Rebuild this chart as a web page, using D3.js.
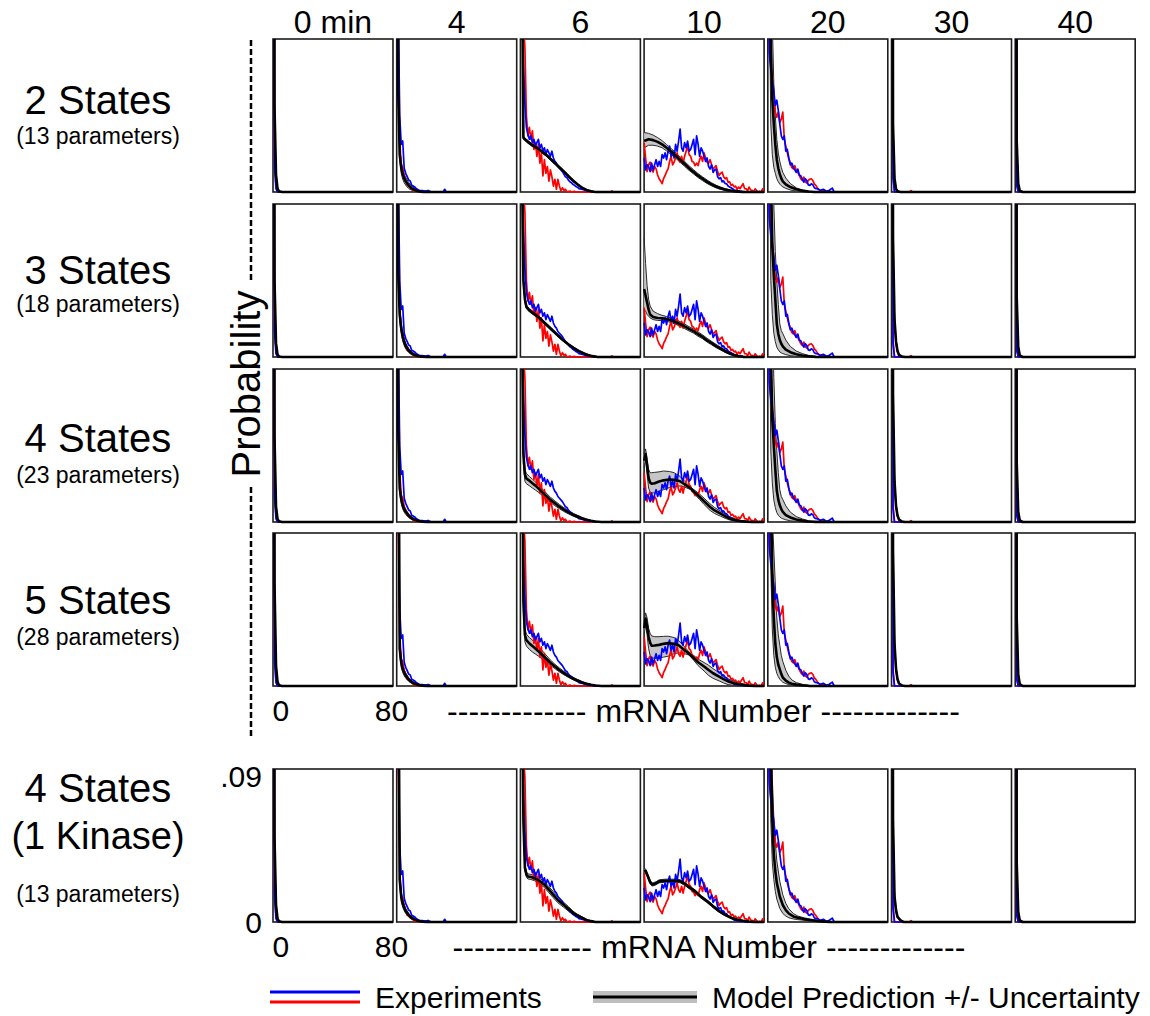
<!DOCTYPE html>
<html>
<head>
<meta charset="utf-8">
<script src="https://cdn.jsdelivr.net/npm/d3@7"></script>
<style>
  body { margin: 0; background: #fff; }
  svg { display: block; font-family: "Liberation Sans", Arial, Helvetica, sans-serif; }
</style>
</head>
<body>
<svg id="chart" width="1150" height="1016"></svg>
<script>
// ---- Time points (columns) and model variants (rows) ----
const timePoints = ["0 min", "4", "6", "10", "20", "30", "40"];
const rowTitles = [["2 States"], ["3 States"], ["4 States"], ["5 States"], ["4 States", "(1 Kinase)"]];
const rowParams = ["(13 parameters)", "(18 parameters)", "(23 parameters)", "(28 parameters)", "(13 parameters)"];
const xTickValues = [0, 80];
const yTickValues = [0, 0.09];
const yTickLabels = ["0", ".09"];

// ---- Measured mRNA distributions, [mRNA, probability], one list per time point ----
const expBlue = [
  [[0,0.95],[1,0.015],[2,0.002],[3,0],[80,0]],
  [[0,0.6],[1,0.11],[2,0.045],[3,0.028],[4,0.03],[5,0.014],[6,0.011],[7,0.009],[8,0.007],[9,0.0065],[10,0.004],[11,0.0035],[12,0.003],[13,0.002],[14,0.0015],[15,0.001],[17,0.0008],[19,0.0005],[21,0.0009],[23,0],[31,0],[32,0.0016],[33,0],[80,0]],
  [[0,0.4],[1,0.12],[2,0.075],[3,0.052],[4,0.038],[5,0.034],[6,0.031],[7,0.033],[8,0.029],[9,0.031],[10,0.027],[11,0.029],[12,0.031],[13,0.026],[14,0.028],[15,0.024],[16,0.026],[17,0.022],[18,0.025],[19,0.023],[20,0.021],[21,0.024],[22,0.02],[23,0.018],[24,0.017],[25,0.015],[26,0.014],[27,0.013],[28,0.012],[29,0.0105],[30,0.009],[31,0.0085],[32,0.007],[33,0.006],[34,0.0055],[35,0.0045],[36,0.004],[37,0.0032],[38,0.0028],[39,0.002],[40,0.0018],[42,0.0014],[44,0.0008],[46,0.0005],[48,0.0003],[50,0],[80,0]],
  [[0,0.02],[1,0.013],[2,0.016],[3,0.015],[4,0.012],[5,0.017],[6,0.013],[7,0.016],[8,0.019],[9,0.015],[10,0.018],[11,0.015],[12,0.022],[13,0.02],[14,0.023],[15,0.019],[16,0.024],[17,0.027],[18,0.021],[19,0.024],[20,0.02],[21,0.028],[22,0.024],[23,0.03],[24,0.037],[25,0.026],[26,0.024],[27,0.029],[28,0.026],[29,0.03],[30,0.024],[31,0.025],[32,0.028],[33,0.031],[34,0.022],[35,0.033],[36,0.028],[37,0.021],[38,0.026],[39,0.024],[40,0.021],[41,0.018],[42,0.02],[43,0.015],[44,0.0135],[45,0.016],[46,0.0115],[47,0.013],[48,0.0135],[49,0.009],[50,0.0078],[51,0.0085],[52,0.006],[53,0.0065],[54,0.005],[55,0.0048],[56,0.0035],[57,0.003],[58,0.0025],[59,0.0019],[60,0.0012],[62,0.0008],[64,0.0005],[66,0.0003],[68,0],[80,0]],
  [[0,0.15],[1,0.082],[2,0.072],[3,0.066],[4,0.059],[5,0.051],[6,0.054],[7,0.048],[8,0.04],[9,0.033],[10,0.031],[11,0.033],[12,0.024],[13,0.025],[14,0.02],[15,0.016],[16,0.017],[17,0.0145],[18,0.013],[19,0.0115],[20,0.0135],[21,0.01],[22,0.0095],[23,0.0075],[24,0.0058],[25,0.0078],[26,0.0068],[27,0.0042],[28,0.0039],[29,0.0048],[30,0.0043],[31,0.0025],[32,0.002],[33,0.0019],[35,0.001],[37,0.0016],[39,0.0004],[41,0.001],[43,0.0023],[44,0.0004],[45,0],[80,0]],
  [[0,0.9],[1,0.008],[2,0],[80,0]],
  [[0,0.95],[1,0.004],[2,0],[80,0]]
];
const expRed = [
  [[0,0.93],[1,0.02],[2,0.003],[3,0],[80,0]],
  [[0,0.65],[1,0.1],[2,0.03],[3,0.016],[4,0.014],[5,0.009],[6,0.007],[7,0.004],[8,0.0045],[9,0.0025],[10,0.002],[11,0.0012],[12,0.0006],[14,0.0003],[15,0],[80,0]],
  [[0,0.42],[1,0.14],[2,0.1],[3,0.085],[4,0.045],[5,0.033],[6,0.038],[7,0.031],[8,0.036],[9,0.025],[10,0.029],[11,0.021],[12,0.028],[13,0.017],[14,0.023],[15,0.0094],[16,0.019],[17,0.011],[18,0.015],[19,0.0064],[20,0.013],[21,0.009],[22,0.0035],[23,0.0075],[24,0.0016],[25,0.0074],[26,0.0035],[27,0.0006],[28,0.0025],[29,0.001],[30,0.0016],[31,0],[33,0.0006],[34,0],[36,0.0004],[37,0],[60,0],[61,0.0006],[62,0],[80,0]],
  [[0,0.029],[1,0.02],[2,0.012],[3,0.016],[4,0.0175],[5,0.013],[6,0.0117],[7,0.015],[8,0.0136],[9,0.01],[10,0.0078],[11,0.0065],[12,0.0049],[13,0.008],[14,0.0097],[15,0.012],[16,0.0136],[17,0.018],[18,0.021],[19,0.016],[20,0.0175],[21,0.02],[22,0.023],[23,0.019],[24,0.0175],[25,0.021],[26,0.017],[27,0.021],[28,0.024],[29,0.027],[30,0.022],[31,0.021],[32,0.018],[33,0.0175],[34,0.0155],[35,0.017],[36,0.0155],[37,0.019],[38,0.021],[39,0.018],[40,0.023],[41,0.02],[42,0.0175],[43,0.017],[44,0.019],[45,0.016],[46,0.0136],[47,0.0145],[48,0.0155],[49,0.012],[50,0.0097],[51,0.011],[52,0.0117],[53,0.009],[54,0.0078],[55,0.0085],[56,0.0058],[57,0.006],[58,0.0039],[59,0.0045],[60,0.003],[61,0.0035],[62,0.0015],[63,0.0029],[64,0.002],[65,0.0035],[66,0.0049],[67,0.002],[68,0.0019],[69,0.0008],[70,0.0029],[71,0.0012],[72,0.001],[73,0],[74,0.0019],[75,0.0008],[76,0],[77,0.0004],[78,0],[79,0.0019],[80,0]],
  [[0,0.14],[1,0.085],[2,0.074],[3,0.068],[4,0.058],[5,0.047],[6,0.044],[7,0.047],[8,0.041],[9,0.043],[10,0.047],[11,0.031],[12,0.027],[13,0.023],[14,0.0195],[15,0.017],[16,0.0145],[17,0.0136],[18,0.0155],[19,0.0126],[20,0.0115],[21,0.0097],[22,0.0078],[23,0.0068],[24,0.0088],[25,0.006],[26,0.0052],[27,0.0068],[28,0.0075],[29,0.0078],[30,0.0068],[31,0.0048],[32,0.0039],[33,0.0025],[34,0.0016],[35,0.0008],[36,0.0006],[37,0.001],[38,0],[80,0]],
  [[0,0.88],[1,0.01],[2,0],[12,0],[13,0.0008],[14,0],[80,0]],
  [[0,0.94],[1,0.005],[2,0],[80,0]]
];

// ---- Model predictions, [mRNA, mean, lower, upper], one list per time point ----
const model2States = [
  [[0,0.9,0.88,0.92],[1,0.05,0.045,0.055],[2,0.01,0.008,0.012],[3,0.002,0.0015,0.003],[4,0.0004,0.0002,0.0006],[6,0,0,0],[80,0,0,0]],
  [[0,0.6,0.55,0.65],[1,0.06,0.055,0.065],[2,0.022,0.019,0.026],[3,0.0145,0.011,0.018],[4,0.0105,0.0075,0.0135],[5,0.008,0.0055,0.0105],[6,0.0063,0.004,0.0086],[8,0.0038,0.002,0.0056],[10,0.0022,0.001,0.0035],[12,0.0012,0.0004,0.002],[14,0.0006,0.0001,0.0011],[16,0.0002,0,0.0005],[18,0,0,0.0001],[80,0,0,0]],
  [[0,0.5,0.49,0.51],[1,0.15,0.145,0.155],[2,0.032,0.031,0.033],[3,0.031,0.0302,0.0318],[5,0.0295,0.0287,0.0303],[8,0.0275,0.0267,0.0283],[11,0.026,0.0252,0.0268],[14,0.024,0.0232,0.0248],[17,0.022,0.0212,0.0228],[20,0.0195,0.0187,0.0203],[23,0.017,0.0162,0.0178],[26,0.0145,0.0137,0.0153],[29,0.012,0.0112,0.0128],[32,0.0093,0.0086,0.01],[35,0.0068,0.0062,0.0074],[38,0.0045,0.004,0.005],[41,0.0026,0.0022,0.003],[44,0.0012,0.0009,0.0015],[47,0.0004,0.0002,0.0006],[50,0,0,0.0001],[80,0,0,0]],
  [[0,0.03,0.026,0.035],[3,0.031,0.0275,0.0345],[6,0.0305,0.0275,0.0335],[9,0.0295,0.027,0.032],[12,0.028,0.026,0.0302],[15,0.026,0.0242,0.0279],[18,0.0238,0.0221,0.0256],[21,0.0215,0.0199,0.0232],[24,0.019,0.0175,0.0206],[27,0.0165,0.0151,0.018],[30,0.014,0.0127,0.0154],[33,0.0118,0.0106,0.0131],[36,0.0096,0.0085,0.0108],[39,0.0078,0.0067,0.0089],[42,0.006,0.005,0.007],[45,0.0045,0.0036,0.0054],[48,0.0032,0.0024,0.004],[51,0.0022,0.0015,0.0029],[54,0.0014,0.0009,0.002],[57,0.0009,0.0005,0.0013],[60,0.0005,0.0002,0.0008],[63,0.0002,0,0.0004],[66,0,0,0.0001],[80,0,0,0]],
  [[0,0.6,0.5,0.7],[1,0.2,0.12,0.3],[2,0.085,0.04,0.14],[3,0.055,0.022,0.1],[4,0.04,0.0145,0.064],[5,0.028,0.011,0.045],[6,0.019,0.0078,0.031],[7,0.014,0.006,0.023],[8,0.0105,0.0046,0.018],[9,0.008,0.0037,0.0145],[10,0.0063,0.003,0.0115],[12,0.0045,0.0021,0.0082],[15,0.0029,0.0012,0.005],[19,0.0016,0.0005,0.0024],[23,0.0008,0.0002,0.0011],[27,0.0003,0,0.0005],[31,0,0,0.0001],[80,0,0,0]],
  [[0,0.8,0.78,0.82],[1,0.04,0.035,0.046],[2,0.008,0.006,0.01],[3,0.0018,0.0012,0.0025],[4,0.0004,0.0002,0.0007],[6,0,0,0],[80,0,0,0]],
  [[0,0.85,0.83,0.87],[1,0.03,0.026,0.034],[2,0.005,0.004,0.006],[3,0.0008,0.0005,0.0011],[5,0,0,0],[80,0,0,0]]
];
const model3States = [
  [[0,0.9,0.88,0.92],[1,0.045,0.04,0.05],[2,0.008,0.006,0.01],[3,0.0015,0.001,0.002],[4,0.0003,0.0001,0.0005],[6,0,0,0],[80,0,0,0]],
  [[0,0.6,0.55,0.65],[1,0.05,0.045,0.056],[2,0.025,0.021,0.029],[3,0.017,0.014,0.02],[4,0.012,0.0095,0.0145],[5,0.0088,0.0068,0.0108],[6,0.0065,0.0048,0.0082],[8,0.0038,0.0026,0.005],[10,0.0022,0.0013,0.0031],[12,0.0012,0.0006,0.0018],[14,0.0006,0.0002,0.001],[17,0.0002,0,0.0004],[20,0,0,0.0001],[80,0,0,0]],
  [[0,0.5,0.49,0.51],[1,0.12,0.115,0.125],[2,0.045,0.042,0.048],[3,0.034,0.032,0.036],[4,0.0295,0.0285,0.0305],[6,0.0275,0.0265,0.0285],[9,0.0255,0.0246,0.0264],[12,0.0235,0.0226,0.0244],[15,0.021,0.0202,0.0218],[18,0.0185,0.0177,0.0193],[21,0.016,0.0152,0.0168],[24,0.0135,0.0128,0.0142],[27,0.011,0.0104,0.0117],[30,0.0088,0.0082,0.0094],[33,0.0068,0.0063,0.0073],[36,0.005,0.0046,0.0055],[39,0.0035,0.0031,0.0039],[42,0.0022,0.0019,0.0025],[45,0.0012,0.001,0.0015],[48,0.0005,0.0003,0.0007],[51,0.0001,0,0.0002],[54,0,0,0],[80,0,0,0]],
  [[0,0.04,0.028,0.07],[1,0.036,0.027,0.055],[2,0.032,0.025,0.042],[3,0.028,0.024,0.034],[4,0.025,0.023,0.03],[6,0.0235,0.022,0.027],[9,0.0229,0.0215,0.0255],[12,0.0228,0.0214,0.0245],[15,0.0224,0.021,0.0238],[18,0.0216,0.0203,0.023],[21,0.0206,0.0193,0.022],[24,0.0194,0.0181,0.0208],[27,0.018,0.0167,0.0194],[30,0.0165,0.0153,0.0178],[33,0.0152,0.014,0.0165],[36,0.0134,0.0122,0.0147],[39,0.0118,0.0107,0.013],[42,0.0098,0.0088,0.011],[45,0.0082,0.0072,0.0092],[48,0.0064,0.0055,0.0074],[51,0.0049,0.0041,0.0058],[54,0.0034,0.0027,0.0042],[57,0.0021,0.0016,0.0027],[60,0.0011,0.0007,0.0016],[63,0.0005,0.0002,0.0008],[66,0.0001,0,0.0003],[70,0,0,0],[80,0,0,0]],
  [[0,0.6,0.5,0.7],[1,0.25,0.15,0.35],[2,0.11,0.045,0.2],[3,0.065,0.025,0.13],[4,0.048,0.014,0.09],[5,0.034,0.009,0.062],[6,0.0194,0.0058,0.045],[7,0.0135,0.0042,0.031],[8,0.01,0.003,0.0195],[9,0.0078,0.0024,0.0155],[10,0.0063,0.002,0.0138],[12,0.0043,0.0014,0.01],[15,0.0028,0.0008,0.0062],[19,0.0016,0.0003,0.0035],[23,0.0009,0.0001,0.002],[27,0.0004,0,0.001],[32,0.0001,0,0.0003],[36,0,0,0],[80,0,0,0]],
  [[0,0.7,0.68,0.72],[1,0.07,0.06,0.08],[2,0.022,0.018,0.026],[3,0.009,0.007,0.011],[4,0.0035,0.0025,0.0045],[5,0.0012,0.0008,0.0016],[7,0.0002,0,0.0004],[9,0,0,0],[80,0,0,0]],
  [[0,0.85,0.83,0.87],[1,0.035,0.03,0.04],[2,0.006,0.005,0.007],[3,0.001,0.0007,0.0013],[5,0,0,0],[80,0,0,0]]
];
const model4States = [
  [[0,0.9,0.88,0.92],[1,0.05,0.045,0.055],[2,0.009,0.007,0.011],[3,0.0018,0.0012,0.0024],[4,0.0004,0.0002,0.0006],[6,0,0,0],[80,0,0,0]],
  [[0,0.6,0.57,0.63],[1,0.055,0.05,0.06],[2,0.02,0.017,0.023],[3,0.0135,0.011,0.016],[4,0.0098,0.0078,0.0118],[5,0.0075,0.0058,0.0092],[6,0.006,0.0045,0.0075],[8,0.0037,0.0026,0.0048],[10,0.0022,0.0014,0.003],[12,0.0013,0.0007,0.0019],[14,0.0007,0.0003,0.0011],[17,0.0002,0,0.0004],[20,0,0,0],[80,0,0,0]],
  [[0,0.5,0.45,0.55],[1,0.13,0.11,0.15],[2,0.04,0.034,0.046],[3,0.028,0.024,0.031],[4,0.0255,0.0225,0.0285],[6,0.0243,0.0213,0.0268],[8,0.0228,0.02,0.0252],[10,0.0214,0.0188,0.0236],[12,0.0198,0.0175,0.022],[14,0.018,0.016,0.02],[17,0.0155,0.0138,0.0172],[20,0.013,0.0115,0.0146],[23,0.011,0.0096,0.0124],[26,0.009,0.0078,0.0103],[29,0.0073,0.0062,0.0084],[32,0.0057,0.0048,0.0067],[35,0.0043,0.0035,0.0052],[38,0.0032,0.0025,0.004],[41,0.0021,0.0016,0.0028],[44,0.0013,0.0009,0.0018],[47,0.0007,0.0004,0.001],[50,0.0003,0.0001,0.0005],[54,0,0,0.0001],[80,0,0,0]],
  [[0,0.036,0.032,0.04],[1,0.04,0.037,0.043],[2,0.033,0.028,0.037],[3,0.026,0.02,0.031],[4,0.0232,0.0175,0.029],[5,0.0225,0.017,0.029],[7,0.0228,0.0172,0.0292],[10,0.0238,0.0182,0.0295],[13,0.0245,0.019,0.03],[17,0.025,0.0203,0.0297],[20,0.0248,0.0208,0.029],[24,0.024,0.0212,0.0268],[27,0.0222,0.0205,0.024],[31,0.0198,0.0191,0.0205],[34,0.0172,0.016,0.0185],[37,0.0148,0.0132,0.0164],[40,0.0122,0.0103,0.014],[44,0.0088,0.0068,0.0107],[47,0.0068,0.005,0.0085],[51,0.0049,0.0034,0.0063],[54,0.0034,0.0022,0.0046],[57,0.0021,0.0012,0.003],[61,0.0011,0.0005,0.0018],[64,0.0006,0.0002,0.001],[68,0.0002,0,0.0004],[72,0,0,0.0001],[80,0,0,0]],
  [[0,0.6,0.5,0.7],[1,0.24,0.14,0.34],[2,0.1,0.042,0.19],[3,0.06,0.023,0.12],[4,0.045,0.013,0.085],[5,0.031,0.0085,0.058],[6,0.0185,0.0055,0.042],[7,0.013,0.004,0.029],[8,0.0098,0.003,0.019],[9,0.0076,0.0023,0.015],[10,0.006,0.0019,0.0132],[12,0.0041,0.0013,0.0095],[15,0.0027,0.0007,0.0058],[19,0.0015,0.0003,0.0032],[23,0.0008,0.0001,0.0018],[27,0.0003,0,0.0008],[32,0.0001,0,0.0002],[36,0,0,0],[80,0,0,0]],
  [[0,0.7,0.68,0.72],[1,0.075,0.065,0.085],[2,0.024,0.02,0.028],[3,0.0095,0.0075,0.0115],[4,0.0038,0.0028,0.0048],[5,0.0014,0.0009,0.0019],[7,0.0002,0,0.0004],[9,0,0,0],[80,0,0,0]],
  [[0,0.85,0.83,0.87],[1,0.035,0.03,0.04],[2,0.006,0.005,0.007],[3,0.001,0.0007,0.0013],[5,0,0,0],[80,0,0,0]]
];
const model5States = [
  [[0,0.9,0.88,0.92],[1,0.06,0.055,0.065],[2,0.012,0.01,0.014],[3,0.0025,0.002,0.003],[4,0.0005,0.0003,0.0007],[6,0,0,0],[80,0,0,0]],
  [[0,0.7,0.67,0.73],[1,0.2,0.17,0.23],[2,0.022,0.018,0.026],[3,0.014,0.011,0.017],[4,0.0102,0.008,0.0124],[5,0.0078,0.006,0.0096],[6,0.0062,0.0047,0.0077],[8,0.0038,0.0027,0.0049],[10,0.0023,0.0015,0.0031],[12,0.0013,0.0007,0.0019],[14,0.0007,0.0003,0.0011],[17,0.0002,0,0.0004],[20,0,0,0],[80,0,0,0]],
  [[0,0.6,0.58,0.62],[1,0.2,0.18,0.22],[2,0.05,0.044,0.056],[3,0.03,0.026,0.034],[4,0.027,0.0235,0.0305],[6,0.025,0.0215,0.0285],[8,0.0235,0.02,0.027],[10,0.022,0.0188,0.0252],[12,0.0205,0.0176,0.0234],[14,0.0188,0.0162,0.0214],[17,0.0162,0.0142,0.0183],[20,0.0137,0.0121,0.0153],[23,0.0115,0.0102,0.0128],[26,0.0094,0.0083,0.0106],[29,0.0076,0.0066,0.0086],[32,0.0059,0.0051,0.0068],[35,0.0044,0.0037,0.0052],[38,0.0032,0.0026,0.0039],[41,0.0021,0.0016,0.0027],[44,0.0013,0.0009,0.0017],[47,0.0007,0.0004,0.001],[50,0.0003,0.0001,0.0005],[54,0,0,0.0001],[80,0,0,0]],
  [[0,0.034,0.03,0.038],[1,0.0397,0.036,0.043],[2,0.035,0.03,0.04],[3,0.029,0.022,0.034],[4,0.0255,0.018,0.031],[5,0.0237,0.0165,0.0295],[7,0.0238,0.0163,0.029],[10,0.0242,0.0165,0.029],[13,0.0248,0.017,0.0292],[16,0.0252,0.0175,0.0293],[20,0.0248,0.019,0.0285],[23,0.024,0.0195,0.0268],[26,0.0218,0.0192,0.024],[30,0.019,0.0182,0.02],[33,0.0165,0.0152,0.018],[36,0.014,0.012,0.0158],[40,0.0115,0.0088,0.0138],[43,0.0094,0.0062,0.0122],[46,0.0075,0.0045,0.0102],[50,0.0055,0.003,0.0078],[53,0.004,0.0018,0.006],[56,0.0027,0.0008,0.0042],[60,0.0016,0.0003,0.0028],[63,0.001,0.0001,0.0018],[67,0.0005,0,0.001],[70,0.0002,0,0.0005],[74,0,0,0.0001],[80,0,0,0]],
  [[0,0.6,0.55,0.7],[1,0.3,0.2,0.4],[2,0.12,0.07,0.18],[3,0.062,0.033,0.1],[4,0.04,0.018,0.08],[5,0.025,0.011,0.06],[6,0.017,0.0075,0.04],[7,0.0125,0.0055,0.03],[8,0.0098,0.004,0.024],[9,0.007,0.003,0.018],[10,0.005,0.0022,0.0145],[12,0.0032,0.0014,0.0092],[14,0.002,0.0008,0.0058],[16,0.0013,0.0005,0.0036],[19,0.0008,0.0002,0.002],[23,0.0004,0,0.001],[28,0,0,0.0003],[32,0,0,0],[80,0,0,0]],
  [[0,0.7,0.68,0.72],[1,0.08,0.07,0.09],[2,0.025,0.021,0.029],[3,0.01,0.008,0.012],[4,0.004,0.003,0.005],[5,0.0015,0.001,0.002],[7,0.0003,0.0001,0.0005],[9,0,0,0],[80,0,0,0]],
  [[0,0.85,0.83,0.87],[1,0.04,0.035,0.045],[2,0.007,0.006,0.008],[3,0.0012,0.0009,0.0015],[5,0,0,0],[80,0,0,0]]
];
const model1Kinase = [
  [[0,0.9,0.88,0.92],[1,0.05,0.045,0.055],[2,0.01,0.008,0.012],[3,0.002,0.0015,0.0025],[4,0.0004,0.0002,0.0006],[6,0,0,0],[80,0,0,0]],
  [[0,0.7,0.67,0.73],[1,0.18,0.16,0.2],[2,0.025,0.021,0.029],[3,0.015,0.012,0.018],[4,0.011,0.0088,0.0132],[5,0.0085,0.0066,0.0104],[6,0.0065,0.005,0.008],[8,0.004,0.0029,0.0051],[10,0.0024,0.0016,0.0032],[12,0.0014,0.0008,0.002],[14,0.0007,0.0003,0.0011],[17,0.0002,0,0.0004],[20,0,0,0],[80,0,0,0]],
  [[0,0.5,0.48,0.52],[1,0.15,0.14,0.16],[2,0.06,0.056,0.064],[3,0.032,0.03,0.034],[4,0.028,0.0265,0.0295],[5,0.0268,0.0253,0.0283],[7,0.0265,0.025,0.028],[9.5,0.0258,0.0243,0.0273],[13,0.024,0.0224,0.0256],[16,0.022,0.0203,0.0237],[19,0.019,0.0172,0.0208],[22,0.016,0.0142,0.0178],[25,0.013,0.0113,0.0147],[28.6,0.0103,0.0088,0.0118],[32,0.0078,0.0065,0.0091],[35,0.0054,0.0044,0.0064],[38,0.0038,0.003,0.0046],[41,0.0025,0.0019,0.0031],[44,0.0012,0.0008,0.0016],[47,0.0005,0.0002,0.0008],[50,0,0,0.0001],[80,0,0,0]],
  [[0,0.0297,0.0285,0.031],[1,0.03,0.0288,0.0312],[2,0.028,0.0268,0.0292],[4,0.0235,0.0225,0.0245],[5.5,0.022,0.0211,0.0229],[8,0.0228,0.0219,0.0237],[10,0.0239,0.023,0.0248],[14,0.0243,0.0234,0.0252],[20,0.0243,0.0234,0.0252],[24,0.024,0.0231,0.0249],[27,0.0225,0.0216,0.0234],[30,0.0205,0.0196,0.0214],[34,0.018,0.0171,0.0189],[38,0.0148,0.014,0.0156],[42,0.0122,0.0114,0.013],[46,0.0092,0.0085,0.0099],[50,0.0064,0.0058,0.007],[54,0.0042,0.0037,0.0047],[58,0.0025,0.0021,0.0029],[62,0.0013,0.001,0.0016],[66,0.0007,0.0005,0.0009],[70,0.0002,0.0001,0.0003],[74,0,0,0],[80,0,0,0]],
  [[0,0.6,0.5,0.7],[1,0.2,0.12,0.3],[2,0.1,0.06,0.14],[3,0.06,0.035,0.085],[4,0.04,0.025,0.062],[5,0.03,0.018,0.047],[6,0.023,0.0135,0.036],[8,0.015,0.008,0.024],[10,0.01,0.005,0.016],[12,0.007,0.0035,0.011],[14,0.005,0.0025,0.0078],[17,0.0033,0.0018,0.005],[20,0.0025,0.0014,0.0035],[24,0.0018,0.001,0.0025],[28,0.0012,0.0006,0.0018],[33,0.0006,0.0002,0.001],[38,0.0002,0,0.0004],[42,0,0,0],[80,0,0,0]],
  [[0,0.7,0.68,0.72],[1,0.06,0.052,0.068],[2,0.015,0.012,0.018],[3,0.007,0.0055,0.0085],[4,0.003,0.0022,0.0038],[6,0.001,0.0006,0.0014],[8,0,0,0.0001],[80,0,0,0]],
  [[0,0.85,0.83,0.87],[1,0.035,0.03,0.04],[2,0.006,0.005,0.007],[3,0.001,0.0007,0.0013],[5,0,0,0],[80,0,0,0]]
];
const models = [model2States, model3States, model4States, model5States, model1Kinase];

// ---- Layout ----
const rowTop = [39, 204, 369, 533, 769];
const PH = 153;
const titleBaselines = [[114], [284], [452], [614], [802, 849]];
const titleSizes = [[40], [40], [40], [40], [40, 38]];
const paramBaselines = [144, 312, 483, 645, 902];

const svg = d3.select("#chart");
const col = d3.scaleBand().domain(timePoints).range([273, 1135.2]).paddingInner(0.03);
const PW = col.bandwidth();
const x = d3.scaleLinear().domain([0, 80]).range([0, PW]);
const y = d3.scaleLinear().domain([0, 0.09]).range([PH, 0]);

const expLine = d3.line().x(d => x(d[0])).y(d => y(d[1]));
const meanLine = d3.line().x(d => x(d[0])).y(d => y(d[1]));
const loLine = d3.line().x(d => x(d[0])).y(d => y(d[2]));
const hiLine = d3.line().x(d => x(d[0])).y(d => y(d[3]));
const bandArea = d3.area().x(d => x(d[0])).y0(d => y(d[2])).y1(d => y(d[3]));

svg.append("defs").append("clipPath").attr("id", "panel-clip")
  .append("rect").attr("x", -1).attr("y", 0).attr("width", PW + 2).attr("height", PH + 2);

// ---- Panels: frame, uncertainty band, two replicate histograms, model mean ----
models.forEach((modelRow, r) => {
  timePoints.forEach((t, c) => {
    const g = svg.append("g").attr("transform", `translate(${col(t)},${rowTop[r]})`);
    g.append("rect").attr("width", PW).attr("height", PH)
      .attr("fill", "#fff").attr("stroke", "#1c1c1c").attr("stroke-width", 1.6);
    const inner = g.append("g").attr("clip-path", "url(#panel-clip)");
    const m = modelRow[c];
    inner.append("path").attr("d", bandArea(m)).attr("fill", "#c6c6c6");
    inner.append("path").attr("d", loLine(m)).attr("fill", "none").attr("stroke", "#2a2a2a").attr("stroke-width", 1);
    inner.append("path").attr("d", hiLine(m)).attr("fill", "none").attr("stroke", "#2a2a2a").attr("stroke-width", 1);
    inner.append("path").attr("d", expLine(expRed[c])).attr("fill", "none")
      .attr("stroke", "#ff0000").attr("stroke-width", 1.7).attr("stroke-linejoin", "round");
    inner.append("path").attr("d", expLine(expBlue[c])).attr("fill", "none")
      .attr("stroke", "#0000ff").attr("stroke-width", 1.7).attr("stroke-linejoin", "round");
    inner.append("path").attr("d", meanLine(m)).attr("fill", "none")
      .attr("stroke", "#000").attr("stroke-width", 2.6).attr("stroke-linejoin", "round");
  });
});

// ---- Column titles ----
svg.selectAll("text.col-title").data(timePoints).join("text")
  .attr("class", "col-title")
  .attr("x", d => col(d) + PW / 2).attr("y", 33)
  .attr("text-anchor", "middle").style("font-size", "32px").text(d => d);

// ---- Row titles ----
rowTitles.forEach((lines, r) => {
  lines.forEach((s, i) => {
    svg.append("text").attr("x", 98).attr("y", titleBaselines[r][i])
      .attr("text-anchor", "middle").style("font-size", titleSizes[r][i] + "px").text(s);
  });
  svg.append("text").attr("x", 98).attr("y", paramBaselines[r])
    .attr("text-anchor", "middle").style("font-size", "23px").text(rowParams[r]);
});

// ---- Shared y label with dashed guides ----
svg.append("text").attr("transform", "translate(260,384) rotate(-90)")
  .attr("text-anchor", "middle").style("font-size", "40px").text("Probability");
[[40, 283], [487, 736]].forEach(([a, b]) => {
  svg.append("line").attr("x1", 251).attr("x2", 251).attr("y1", a).attr("y2", b)
    .attr("stroke", "#000").attr("stroke-width", 2.5).attr("stroke-dasharray", "6,3");
});

// ---- x tick labels and axis titles under the 5-state row and the kinase row ----
[[3, 703.5], [4, 709]].forEach(([r, cx]) => {
  const ax = svg.append("g")
    .attr("transform", `translate(${col(timePoints[0])},${rowTop[r] + PH})`)
    .call(d3.axisBottom(x).tickValues(xTickValues).tickSize(0).tickPadding(14));
  ax.select(".domain").remove();
  ax.selectAll("text").attr("fill", "#000").style("font-size", "30px")
    .style("font-family", "'Liberation Sans', Arial, sans-serif")
    .attr("text-anchor", d => d === 0 ? "start" : "middle")
    .attr("dx", d => d === 0 ? -1 : -2);
  svg.append("text").attr("x", cx).attr("y", rowTop[r] + PH + 36)
    .attr("text-anchor", "middle").style("font-size", "32px")
    .attr("textLength", 513).attr("lengthAdjust", "spacing")
    .text("------------- mRNA Number -------------");
});

// ---- y tick labels on the kinase row ----
const yAx = svg.append("g")
  .attr("transform", `translate(${col(timePoints[0])},${rowTop[4]})`)
  .call(d3.axisLeft(y).tickValues(yTickValues).tickSize(0).tickPadding(11)
    .tickFormat((d, i) => yTickLabels[i]));
yAx.select(".domain").remove();
yAx.selectAll("text").attr("fill", "#000").style("font-size", "30px")
  .style("font-family", "'Liberation Sans', Arial, sans-serif")
  .attr("y", d => d > 0 ? 8 : 1);

// ---- Legend ----
const lg = svg.append("g");
lg.append("line").attr("x1", 270).attr("x2", 360).attr("y1", 992).attr("y2", 992)
  .attr("stroke", "#0000ff").attr("stroke-width", 3);
lg.append("line").attr("x1", 270).attr("x2", 360).attr("y1", 1002).attr("y2", 1002)
  .attr("stroke", "#ff0000").attr("stroke-width", 3);
lg.append("text").attr("x", 375).attr("y", 1008).style("font-size", "30px").text("Experiments");
lg.append("rect").attr("x", 593).attr("y", 991).attr("width", 104).attr("height", 12).attr("fill", "#bebebe");
lg.append("line").attr("x1", 593).attr("x2", 697).attr("y1", 997).attr("y2", 997)
  .attr("stroke", "#000").attr("stroke-width", 3);
lg.append("text").attr("x", 712).attr("y", 1008).style("font-size", "30px").text("Model Prediction +/- Uncertainty");
</script>
</body>
</html>
